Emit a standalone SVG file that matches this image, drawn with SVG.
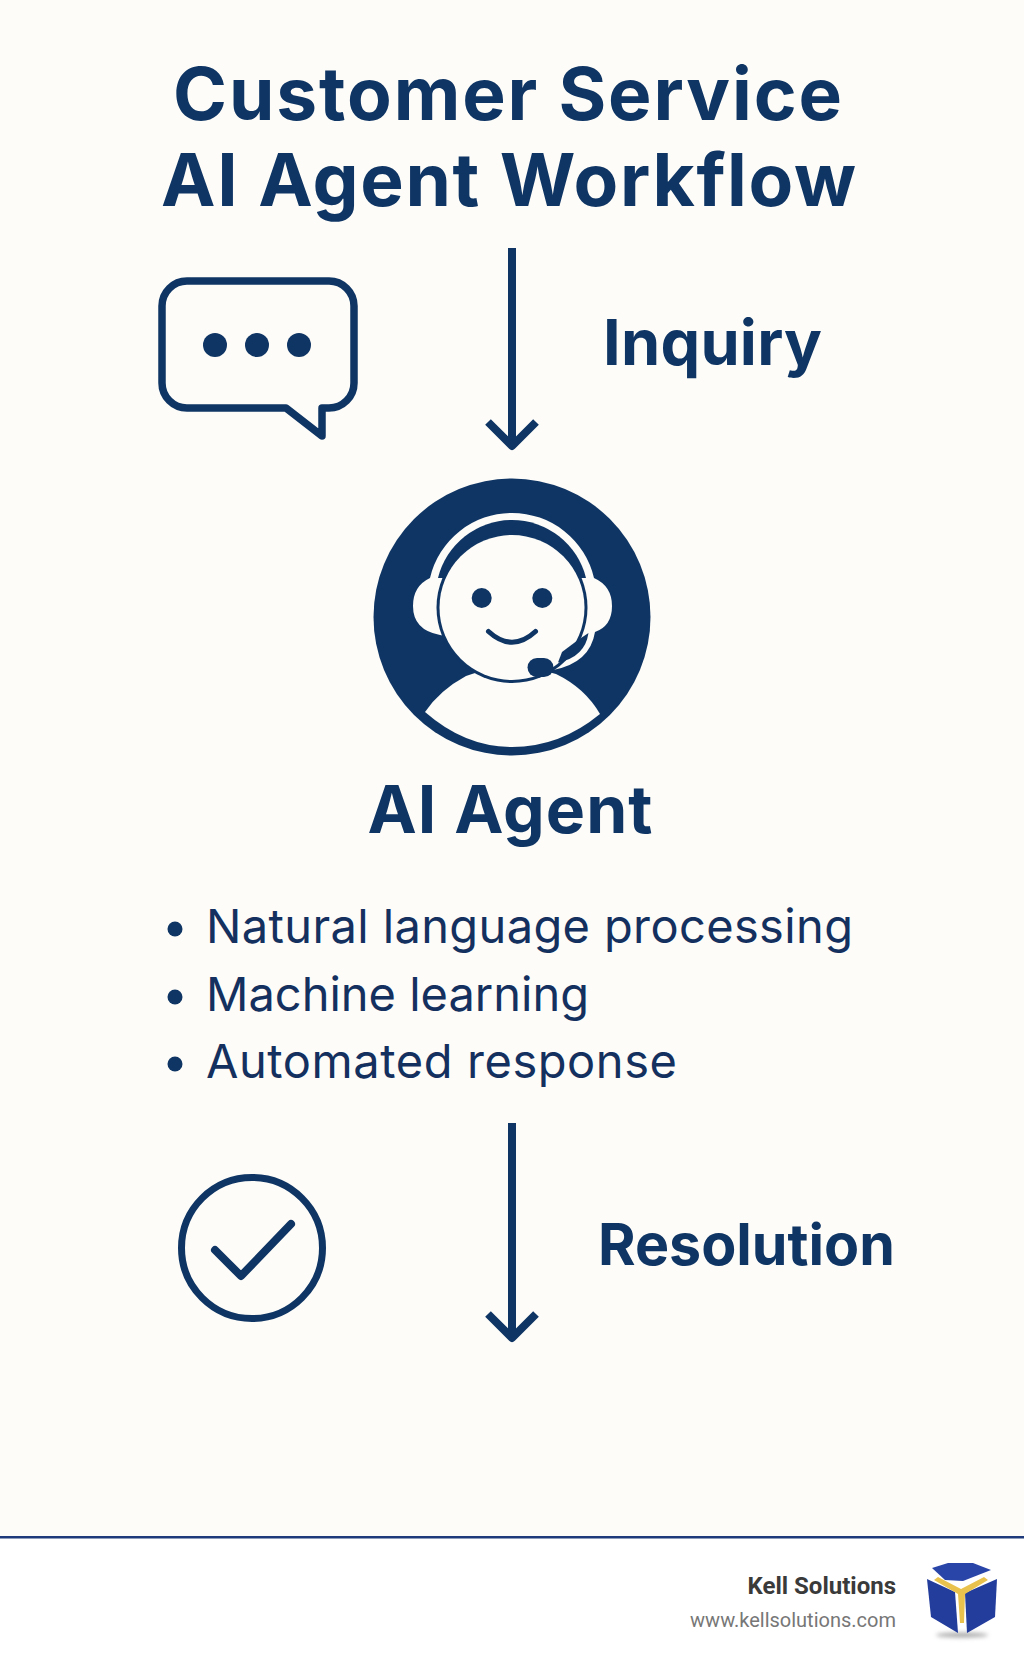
<svg xmlns="http://www.w3.org/2000/svg" width="1024" height="1666" viewBox="0 0 1024 1666">
<style>
.h{font-family:Inter,"Liberation Sans",sans-serif;font-weight:700;fill:#0f3564}
.l{font-family:Inter,"Liberation Sans",sans-serif;font-weight:400;font-size:47px;fill:#14305f}
.s{fill:none;stroke:#0f3564;stroke-width:8;stroke-linecap:round;stroke-linejoin:round}
.d{fill:#0f3564}
.w{fill:#fdfcf8}
</style>
<defs><filter id="soft" x="-20%" y="-20%" width="140%" height="140%"><feGaussianBlur stdDeviation="0.7"/></filter><filter id="shadow" x="-20%" y="-200%" width="140%" height="500%"><feGaussianBlur stdDeviation="2"/></filter></defs>
<rect width="1024" height="1537" fill="#fdfcf8"/>
<rect y="1537" width="1024" height="129" fill="#fff"/>
<g id="title"><text class="h" x="173" y="119.5" font-size="73" textLength="669">Customer Service</text><text class="h" x="161" y="205.5" font-size="73" textLength="695">AI Agent Workflow</text></g>
<g id="connectors">
<path class="s" d="M512 248 V446 M488 422 L512 446 L536 422" style="stroke-linecap:butt"/>
<path class="s" d="M512 1123 V1338 M488 1314 L512 1338 L536 1314" style="stroke-linecap:butt"/>
</g>
<g id="inquiry">
<path class="s" style="stroke-width:7.5" d="M187 281 H329 A25 25 0 0 1 354 306 V383 A25 25 0 0 1 329 408 H322 V436 L286 408 H187 A25 25 0 0 1 162 383 V306 A25 25 0 0 1 187 281 Z"/>
<circle class="d" cx="215" cy="345" r="12"/><circle class="d" cx="257" cy="345" r="12"/><circle class="d" cx="299" cy="345" r="12"/>
<text class="h" x="603" y="365" font-size="63" textLength="219">Inquiry</text>
</g>
<g id="agent">
<circle class="d" cx="512" cy="617" r="138.5"/>
<path class="w" d="M425 712 Q440 690 466 676 Q512 660 556 674 Q585 688 600 714 Q560 747 512 747 Q465 747 425 712 Z"/>
<path class="w" d="M430 578 A84.2 84.2 0 0 1 594 578 Q612 586 612 606 Q612 626 595 632 Q590 663 553 670 L512 650 L440 635 Q413 630 413 606 Q413 586 430 578 Z"/>
<path class="d" d="M438 578 A76.2 76.2 0 0 1 586 578 Z"/>
<circle class="d" cx="512" cy="607.5" r="75.5"/>
<circle class="w" cx="512" cy="607.5" r="72.5"/>
<path class="d" d="M588.5 633 Q585 657 558 662.5 L562 652 L578 640 Z"/>
<rect class="d" x="527.5" y="658" width="26" height="19" rx="9.5"/>
<circle class="d" cx="481.7" cy="598" r="10"/><circle class="d" cx="542.3" cy="598" r="10"/>
<path class="s" style="stroke-width:5" d="M488.5 631.5 Q512 653 535.5 631.5"/>
<text class="h" x="367.5" y="833" font-size="66" textLength="285">AI Agent</text>
</g>
<g id="capabilities">
<circle class="d" cx="175" cy="929" r="7.5"/><text class="l" x="206" y="943" textLength="647">Natural language processing</text>
<circle class="d" cx="175" cy="997" r="7.5"/><text class="l" x="206" y="1011" textLength="383">Machine learning</text>
<circle class="d" cx="175" cy="1064" r="7.5"/><text class="l" x="206" y="1078" textLength="471">Automated response</text>
</g>
<g id="resolution">
<circle class="s" style="stroke-width:7" cx="252" cy="1248" r="70.5"/>
<path class="s" d="M215 1250 L241 1276 L291 1224"/>
<text class="h" x="598" y="1265" font-size="57.3">Resolution</text>
</g>
<g id="footer">
<rect y="1536" width="1024" height="2.5" fill="#1e3a7a"/>
<text x="896" y="1594" text-anchor="end" font-family="Roboto,sans-serif" font-weight="700" font-size="24" fill="#3a3a3a">Kell Solutions</text>
<text x="896" y="1627" text-anchor="end" font-family="Roboto,sans-serif" font-size="20" fill="#777">www.kellsolutions.com</text>
<ellipse cx="962" cy="1635" rx="26" ry="2.5" fill="#aaa" filter="url(#shadow)"/>
<g filter="url(#soft)">
<path d="M932 1568 L948 1563 H973 L991 1570 L963 1581 L945 1580 Z" fill="#2a45a8"/>
<path d="M927 1579 L955 1592 L958 1633 L931 1617 Z" fill="#223c9c"/>
<path d="M997 1579 L965 1593 L967 1633 L995 1617 Z" fill="#223c9c"/>
<path d="M938 1577 L961 1589 L984 1577 L988 1580 L965 1594 L964 1623 H960 L958 1594 L934 1580 Z" fill="#e9c24e"/>
</g>
</g>
</svg>
